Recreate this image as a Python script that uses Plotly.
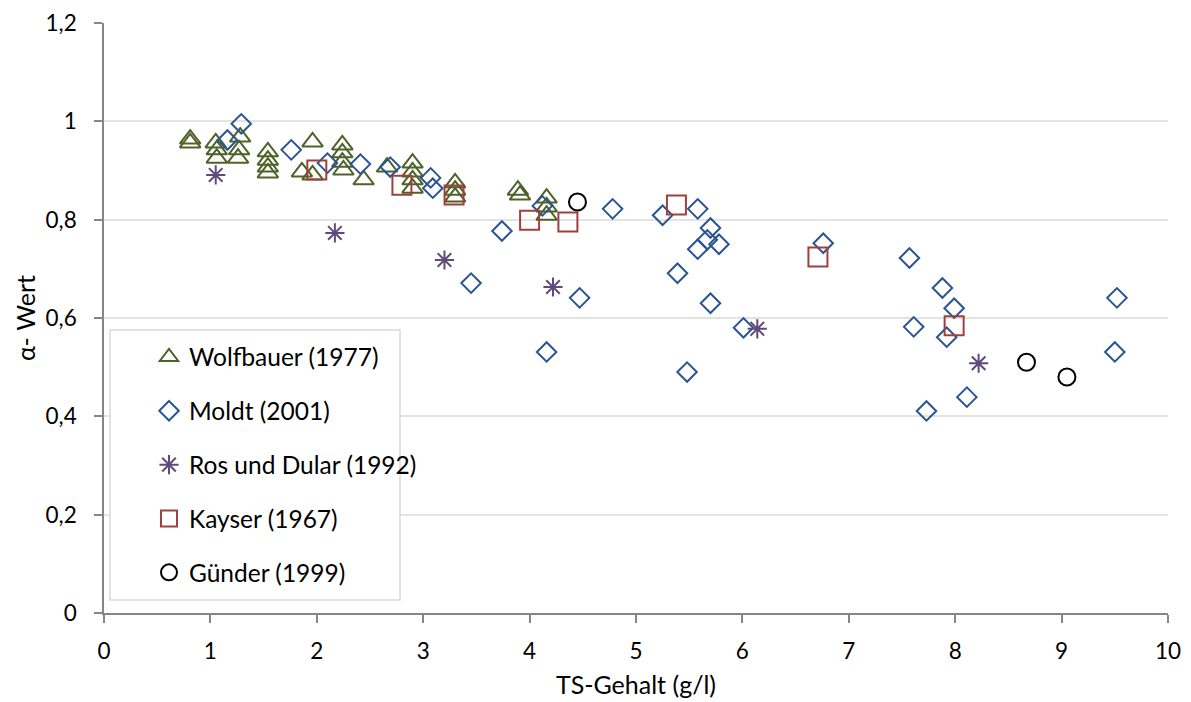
import plotly.graph_objects as go

# ---- data ----
wolf_x = [0.81, 0.81, 1.05, 1.06, 1.06, 1.28, 1.27, 1.26, 1.54, 1.54, 1.54, 1.54,
          1.96, 1.86, 1.96, 2.24, 2.24, 2.24, 2.25, 2.44, 2.66, 2.90, 2.90, 2.90,
          2.90, 3.30, 3.30, 3.30, 3.89, 3.91, 4.16, 4.16, 4.16]
wolf_y = [0.964, 0.956, 0.956, 0.942, 0.925, 0.968, 0.942, 0.925, 0.938, 0.921, 0.907, 0.895,
          0.958, 0.897, 0.891, 0.952, 0.936, 0.917, 0.901, 0.881, 0.907, 0.915, 0.897, 0.881,
          0.864, 0.875, 0.860, 0.846, 0.860, 0.850, 0.844, 0.826, 0.809]

moldt_x = [1.29, 1.16, 1.76, 2.10, 2.41, 2.69, 3.07, 3.09, 4.12, 4.78, 3.74, 3.45,
           4.47, 4.16, 5.25, 5.58, 5.70, 5.67, 5.58, 5.78, 5.39, 5.70, 6.01, 5.48,
           6.76, 7.57, 7.88, 7.99, 7.61, 7.92, 8.11, 7.73, 9.52, 9.50]
moldt_y = [0.995, 0.962, 0.942, 0.915, 0.913, 0.907, 0.885, 0.864, 0.828, 0.822, 0.777, 0.671,
           0.641, 0.531, 0.809, 0.822, 0.783, 0.759, 0.740, 0.750, 0.691, 0.630, 0.580, 0.490,
           0.752, 0.722, 0.661, 0.620, 0.582, 0.561, 0.439, 0.411, 0.641, 0.531]

ros_x = [1.05, 2.17, 3.20, 4.22, 6.14, 8.22]
ros_y = [0.891, 0.773, 0.718, 0.663, 0.578, 0.508]

kayser_x = [2.00, 2.80, 3.29, 4.00, 4.36, 5.38, 6.71, 7.99]
kayser_y = [0.901, 0.870, 0.850, 0.799, 0.795, 0.830, 0.724, 0.584]

guender_x = [4.45, 8.67, 9.05]
guender_y = [0.836, 0.510, 0.480]

x_ticks = [0, 1, 2, 3, 4, 5, 6, 7, 8, 9, 10]
y_ticks = [0, 0.2, 0.4, 0.6, 0.8, 1.0, 1.2]
y_ticklabels = ["0", "0,2", "0,4", "0,6", "0,8", "1", "1,2"]

FONT = "Lato"
W, H = 1191, 702
ML, MR, MT, MB = 104, 23, 23, 89

series = [
    ("Wolfbauer (1977)", wolf_x, wolf_y, "triangle-up-open", "#4F6228", 18),
    ("Moldt (2001)", moldt_x, moldt_y, "diamond-open", "#2A5592", 15),
    ("Ros und Dular (1992)", ros_x, ros_y, "asterisk-open", "#604A7B", 16),
    ("Kayser (1967)", kayser_x, kayser_y, "square-open", "#A0403E", 19),
    ("Günder (1999)", guender_x, guender_y, "circle-open", "#000000", 17),
]

fig = go.Figure()
for i, (name, xs, ys, sym, col, sz) in enumerate(series):
    fig.add_trace(go.Scatter(
        x=xs, y=ys, mode="markers", name=name, legendgroup=f"g{i}",
        marker=dict(symbol=sym, size=sz, color=col, line=dict(color=col, width=2)),
    ))

pw = W - ML - MR
ph = H - MT - MB

def px_x(p):
    return (p - ML) / pw

def px_y(p):
    return (H - MB - p) / ph

fig.add_shape(type="rect", xref="paper", yref="paper",
              x0=px_x(110), x1=px_x(400), y0=px_y(600), y1=px_y(330),
              line=dict(color="#D9D9D9", width=1.5), fillcolor="white", layer="above")

fig.update_layout(
    width=W, height=H,
    margin=dict(l=ML, r=MR, t=MT, b=MB, autoexpand=False),
    paper_bgcolor="white", plot_bgcolor="white",
    font=dict(family=FONT, size=23, color="#000000"),
    separators=",.",
    showlegend=True,
    legend=dict(x=px_x(149), y=px_y(334.5), xanchor="left", yanchor="top",
                bgcolor="rgba(0,0,0,0)", borderwidth=0,
                tracegroupgap=19, font=dict(family=FONT, size=24.5, color="#000000"),
                itemsizing="trace"),
    xaxis=dict(range=[0, 10], tickvals=x_ticks, showgrid=False, zeroline=False,
               automargin=False,
               showline=True, linecolor="#868686", linewidth=1.5,
               ticks="outside", ticklen=8, tickcolor="#868686", tickwidth=1.5,
               ticklabelstandoff=9,
               tickfont=dict(family=FONT, size=22.5),
               title=dict(text="TS-Gehalt (g/l)", font=dict(family=FONT, size=25), standoff=14)),
    yaxis=dict(range=[0, 1.2], tickvals=y_ticks, ticktext=y_ticklabels,
               automargin=False,
               showgrid=True, gridcolor="#E3E3E3", gridwidth=1.5, zeroline=False,
               showline=True, linecolor="#868686", linewidth=1.5,
               ticks="outside", ticklen=8, tickcolor="#868686", tickwidth=1.5,
               ticklabelstandoff=13,
               tickfont=dict(family=FONT, size=22.5),
               title=dict(text="α- Wert", font=dict(family=FONT, size=25), standoff=3)),
)

fig.write_html("out.html")
